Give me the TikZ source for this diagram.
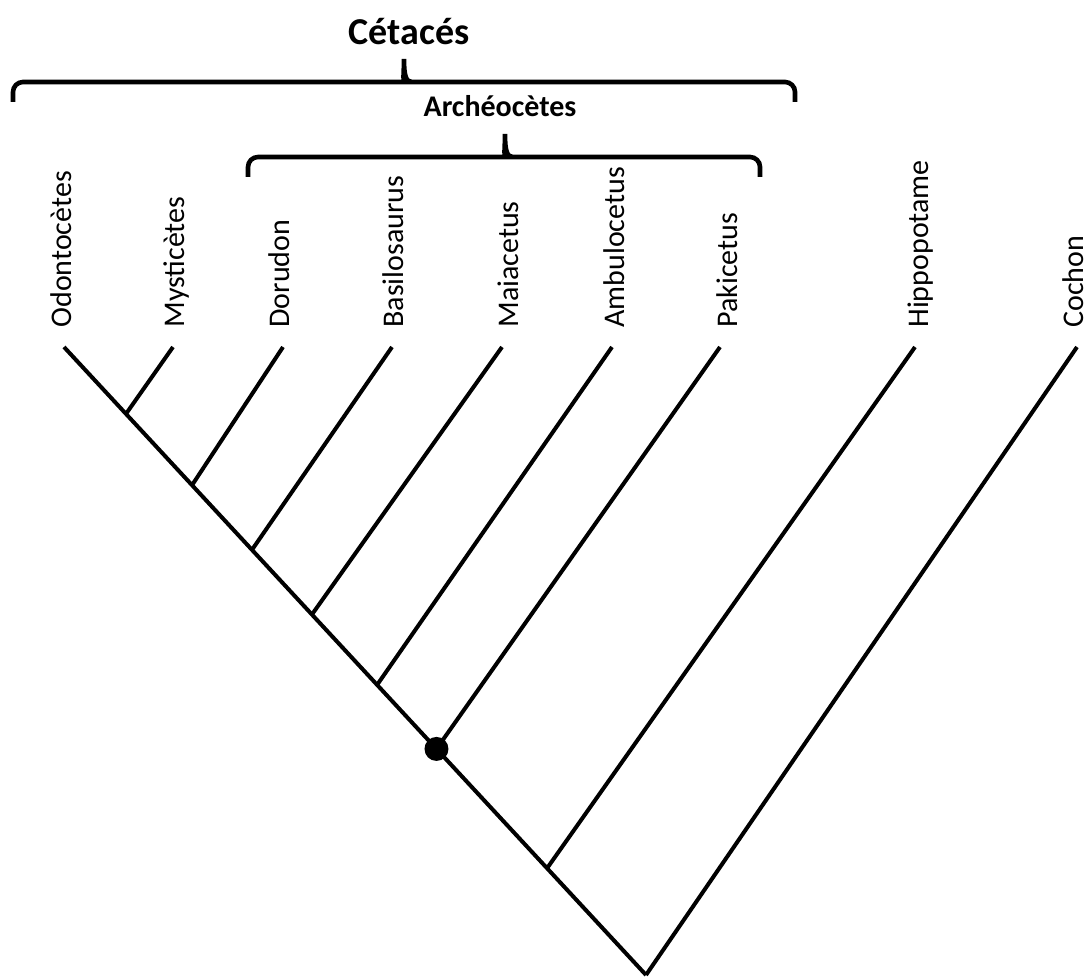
\documentclass[tikz,border=0pt]{standalone}
\usepackage{fontspec}
\setmainfont{Carlito}
\usetikzlibrary{calc}
\begin{document}
\begin{tikzpicture}[x=0.5pt,y=-0.5pt,
  branch/.style={line width=2pt},
  bracestyle/.style={line width=2.3pt},
  leaf/.style={rotate=90, anchor=base west, inner sep=0pt, font=\fontsize{15}{18}\selectfont},
  grouplabel/.style={anchor=base, inner sep=0pt, font=\bfseries\fontsize{15}{18}\selectfont},
  toplabel/.style={anchor=base, inner sep=0pt, font=\bfseries\fontsize{19}{23}\selectfont},
  nodedot/.style={circle, fill=black, inner sep=0pt, minimum size=12pt}]
\useasboundingbox (0,0) rectangle (1091,978);

% tips
\coordinate (tO) at (64,347);
\coordinate (tM) at (173,347);
\coordinate (tD) at (283,347);
\coordinate (tB) at (392,347);
\coordinate (tMa) at (502,347);
\coordinate (tA) at (612,347);
\coordinate (tP) at (720,347);
\coordinate (tH) at (915,347);
\coordinate (tC) at (1077,347);
\coordinate (root) at (646,975);

% junctions along the main line
\coordinate (j1) at ($(tO)!0.1065!(root)$);
\coordinate (j2) at ($(tO)!0.220!(root)$);
\coordinate (j3) at ($(tO)!0.323!(root)$);
\coordinate (j4) at ($(tO)!0.426!(root)$);
\coordinate (j5) at ($(tO)!0.538!(root)$);
\coordinate (j6) at ($(tO)!0.640!(root)$);
\coordinate (j7) at ($(tO)!0.830!(root)$);

% branches
\draw[branch] (tO) -- (root);
\draw[branch] (tM) -- (j1);
\draw[branch] (tD) -- (j2);
\draw[branch] (tB) -- (j3);
\draw[branch] (tMa) -- (j4);
\draw[branch] (tA) -- (j5);
\draw[branch] (tP) -- (j6);
\draw[branch] (tH) -- (j7);
\draw[branch] (tC) -- (root);
\node[nodedot] (dot) at (j6) {};

% labels
\node[leaf] (lO) at (71,328) {Odontocètes};
\node[leaf] (lM) at (184,328) {Mysticètes};
\node[leaf] (lD) at (289,328) {Dorudon};
\node[leaf] (lB) at (403,328) {Basilosaurus};
\node[leaf] (lMa) at (518,328) {Maiacetus};
\node[leaf] (lA) at (624,328) {Ambulocetus};
\node[leaf] (lP) at (737,328) {Pakicetus};
\node[leaf] (lH) at (928,328) {Hippopotame};
\node[leaf] (lC) at (1083,328) {Cochon};

% braces
\draw[bracestyle] (13,102) [rounded corners=5pt] -- (13,82) -- (396,82) [sharp corners]
  .. controls (402,82) and (404,76) .. (404,59)
  .. controls (404,76) and (406,82) .. (412,82) [rounded corners=5pt] -- (795,82) -- (795,102);
\draw[bracestyle] (248,177) [rounded corners=5pt] -- (248,157) -- (497,157) [sharp corners]
  .. controls (503,157) and (505,151) .. (505,134)
  .. controls (505,151) and (507,157) .. (513,157) [rounded corners=5pt] -- (760,157) -- (760,177);

\node[toplabel] (cet) at (409,45) {Cétacés};
\node[grouplabel] (arch) at (500,117) {Archéocètes};
\end{tikzpicture}
\end{document}
